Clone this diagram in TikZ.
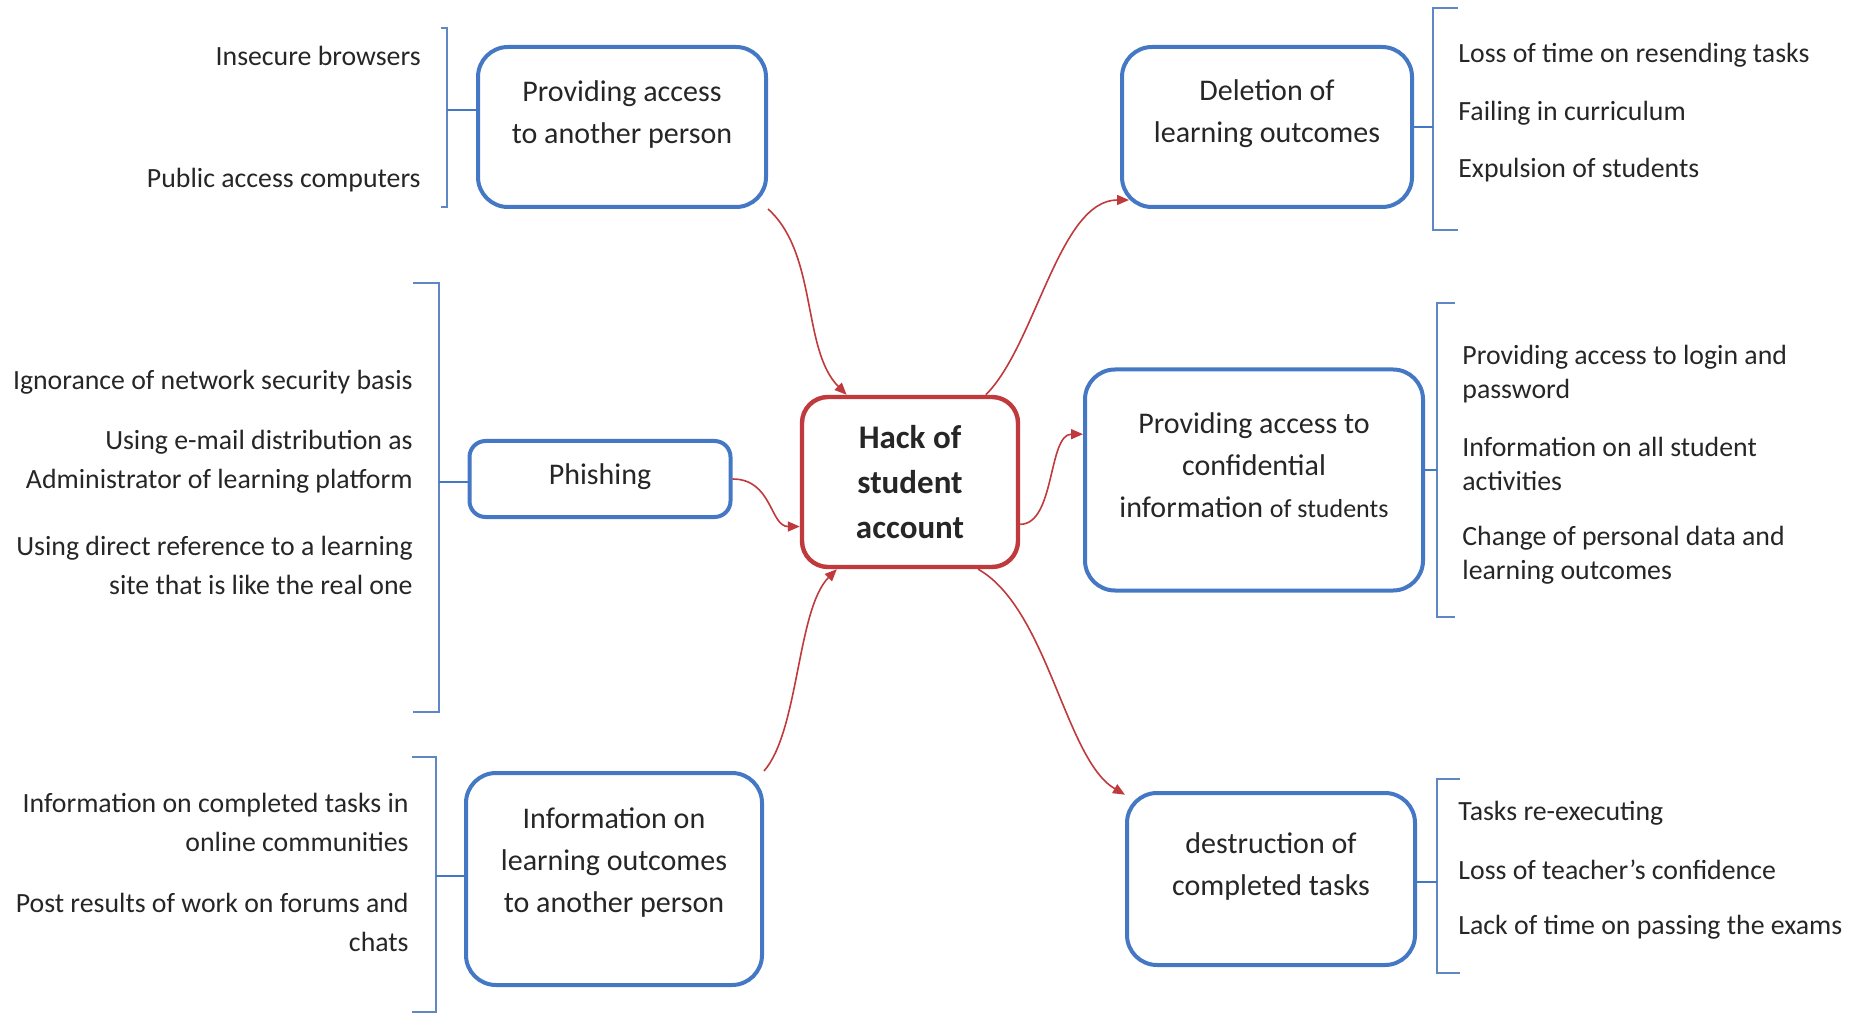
\documentclass[tikz,border=0pt]{standalone}
\usepackage{fontspec}
\setmainfont{Carlito}
\usetikzlibrary{arrows.meta}

\definecolor{boxblue}{RGB}{68,120,196}
\definecolor{brackblue}{RGB}{95,135,195}
\definecolor{hackred}{RGB}{192,57,60}

\begin{document}
\begin{tikzpicture}[x=0.5pt,y=-0.5pt,
    box/.style={draw=boxblue,line width=2pt,rounded corners=15pt,fill=white},
    hackbox/.style={draw=hackred,line width=2.2pt,rounded corners=13pt,fill=white},
    boxtext/.style={align=center,inner sep=0pt,font=\fontsize{15}{21}\selectfont,text=black!85},
    lefttext/.style={anchor=east,align=right,inner sep=0pt,font=\fontsize{13.9}{19.5}\selectfont,text=black!85},
    righttext/.style={anchor=west,align=left,inner sep=0pt,font=\fontsize{13.9}{19.5}\selectfont,text=black!85},
    brack/.style={draw=brackblue,line width=0.7pt},
    link/.style={draw=boxblue,line width=1.2pt},
    hackarrow/.style={draw=hackred,line width=0.8pt,-{Triangle[length=6pt,width=5pt]}}]
    \useasboundingbox (0,0) rectangle (1866,1015);

    \node[box,minimum width=144pt,minimum height=80pt] (pa) at (622,127) {};
    \node[boxtext] (pa-t) at (622,115) {Providing access\\to another person};
    \node[box,rounded corners=8pt,minimum width=130.5pt,minimum height=38pt] (phish) at (600,479) {};
    \node[boxtext] (phish-t) at (600,477) {Phishing};
    \node[box,minimum width=148pt,minimum height=106pt] (info) at (614,879) {};
    \node[boxtext] (info-t) at (614,863) {Information on\\learning outcomes\\to another person};
    \node[hackbox,minimum width=108pt,minimum height=85pt] (hack) at (910,482) {};
    \node[boxtext,font=\fontsize{16.5}{22.5}\selectfont\bfseries] (hack-t) at (910,482) {Hack of\\student\\account};
    \node[box,minimum width=145pt,minimum height=80pt] (del) at (1267,127) {};
    \node[boxtext] (del-t) at (1267,114) {Deletion of\\learning outcomes};
    \node[box,minimum width=169pt,minimum height=110.5pt] (conf) at (1254,480) {};
    \node[boxtext] (conf-t) at (1254,465) {Providing access to\\confidential\\information {\fontsize{13}{21}\selectfont of students}};
    \node[box,minimum width=144pt,minimum height=86pt] (dest) at (1271,879) {};
    \node[boxtext] (dest-t) at (1271,866) {destruction of\\completed tasks};

    \node[lefttext] (pa-1) at (421,56) {Insecure browsers};
    \node[lefttext] (pa-2) at (421,180) {Public access computers};
    \node[lefttext] (phish-1) at (413,382) {Ignorance of network security basis};
    \node[lefttext] (phish-2) at (413,462) {Using e-mail distribution as\\Administrator of learning platform};
    \node[lefttext] (phish-3) at (413,565) {Using direct reference to a learning\\site that is like the real one};
    \node[lefttext] (info-1) at (409,822) {Information on completed tasks in\\online communities};
    \node[lefttext] (info-2) at (409,922) {Post results of work on forums and\\chats};
    \node[righttext] (del-1) at (1458,55) {Loss of time on resending tasks};
    \node[righttext] (del-2) at (1458,113) {Failing in curriculum};
    \node[righttext] (del-3) at (1458,170) {Expulsion of students};
    \node[righttext,font=\fontsize{13.9}{17}\selectfont] (conf-1) at (1462,374) {Providing access to login and\\password};
    \node[righttext,font=\fontsize{13.9}{17}\selectfont] (conf-2) at (1462,464) {Information on all student\\activities};
    \node[righttext,font=\fontsize{13.9}{17}\selectfont] (conf-3) at (1462,555) {Change of personal data and\\learning outcomes};
    \node[righttext] (dest-1) at (1458,813) {Tasks re-executing};
    \node[righttext] (dest-2) at (1458,870) {Loss of teacher’s confidence};
    \node[righttext] (dest-3) at (1458,927) {Lack of time on passing the exams};

    \draw[brack] (441,28) -- (447,28) -- (447,207) -- (441,207);
    \draw[brack] (413,283) -- (439,283) -- (439,712) -- (413,712);
    \draw[brack] (412,757) -- (436,757) -- (436,1012) -- (412,1012);
    \draw[brack] (1458,8) -- (1433,8) -- (1433,230) -- (1458,230);
    \draw[brack] (1455,303) -- (1437,303) -- (1437,617) -- (1455,617);
    \draw[brack] (1460,779) -- (1437,779) -- (1437,973) -- (1460,973);

    \coordinate (pa-b) at (447,110);
    \coordinate (phish-b) at (439,482);
    \coordinate (info-b) at (436,876);
    \coordinate (del-b) at (1433,127);
    \coordinate (conf-b) at (1437,470);
    \coordinate (dest-b) at (1437,882);
    \draw[link] (pa-b) -- (pa-b -| pa.west);
    \draw[link] (phish-b) -- (phish-b -| phish.west);
    \draw[link] (info-b) -- (info-b -| info.west);
    \draw[link] (del-b) -- (del-b -| del.east);
    \draw[link] (conf-b) -- (conf-b -| conf.east);
    \draw[link] (dest-b) -- (dest-b -| dest.east);

    \draw[hackarrow] (pa.south east) .. controls +(50,45) and +(-45,-45) .. (hack.126);
    \draw[hackarrow] (phish.east) .. controls +(40,0) and +(-30,0) .. (hack.202);
    \draw[hackarrow] (info.north east) .. controls +(35,-40) and +(-40,40) .. (hack.230);
    \draw[hackarrow] (hack.49) .. controls +(50,-50) and +(-70,0) .. ([shift={(9,-9)}]del.south west);
    \draw[hackarrow] (hack.-21) .. controls +(35,0) and +(-35,0) .. (conf.165);
    \draw[hackarrow] (hack.-52) .. controls +(70,40) and +(-60,-35) .. (dest.150);
\end{tikzpicture}
\end{document}
